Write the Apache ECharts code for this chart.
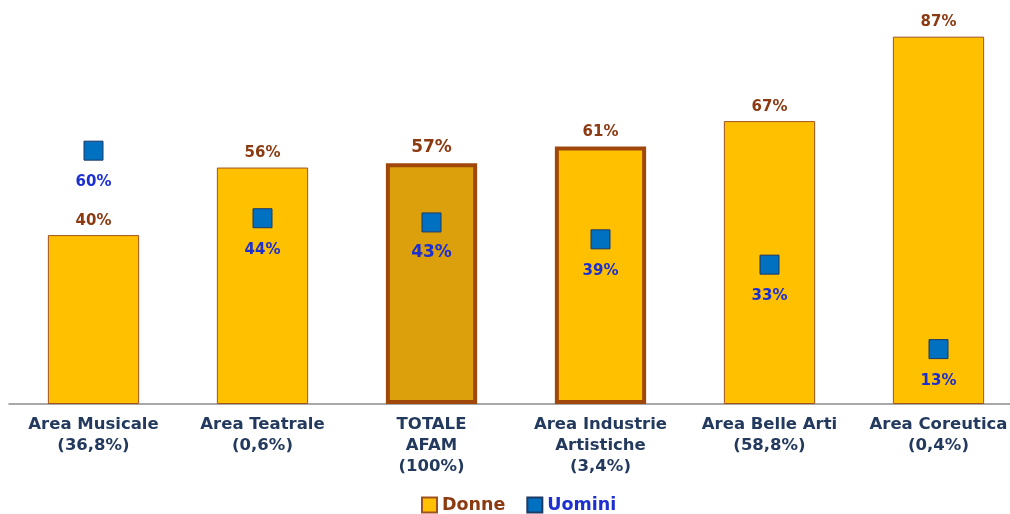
<!DOCTYPE html>
<html>
<head>
<meta charset="utf-8">
<script src="https://cdn.jsdelivr.net/npm/echarts@6/dist/echarts.min.js"></script>
<style>
  html, body { margin: 0; padding: 0; background: #fff; }
  #chart { width: 1010px; height: 514px; }
</style>
</head>
<body>
<div id="chart"></div>
<script>
// categorie (quota sul totale AFAM)
const categories = [
  'Area Musicale\n(36,8%)',
  'Area Teatrale\n(0,6%)',
  'TOTALE\nAFAM\n(100%)',
  'Area Industrie\nArtistiche\n(3,4%)',
  'Area Belle Arti\n(58,8%)',
  'Area Coreutica\n(0,4%)'
]
const donne = [40, 56, 57, 61, 67, 87]
const uomini = [60, 44, 43, 39, 33, 13]

const font = 'DejaVu Sans'
const brown = '#8B3A12'
const blue = '#1C2FD0'

const chart = echarts.init(document.getElementById('chart'))

// barre donne, con stile speciale per il totale e industrie artistiche
const donneData = donne.map((v, i) => {
  const item = { value: v }
  if (i === 2) {
    item.itemStyle = { color: '#DBA00B', borderColor: '#A0480C', borderWidth: 4 }
    item.label = { fontSize: 17 }
  } else if (i === 3) {
    item.itemStyle = { borderColor: '#A0480C', borderWidth: 4 }
  }
  return item
})
const uominiData = uomini.map((v, i) => {
  const item = { value: v }
  if (i === 2) {
    item.label = { fontSize: 17, distance: 12 }
  }
  return item
})

const option = {
  animation: false,
  grid: { left: 9, top: 24, width: 1014, height: 380, outerBoundsMode: 'none', containLabel: false },
  legend: {
    top: 491,
    left: 416,
    itemWidth: 15,
    itemHeight: 15,
    itemGap: 21,
    data: [
      { name: 'Donne', icon: 'rect', textStyle: { color: brown } },
      { name: 'Uomini', icon: 'rect', textStyle: { color: blue } }
    ],
    textStyle: { fontFamily: font, fontWeight: 'bold', fontSize: 17.5 }
  },
  xAxis: {
    type: 'category',
    data: categories,
    axisLine: { lineStyle: { color: '#8c8c8c', width: 1.5 } },
    axisTick: { length: 6, lineStyle: { color: '#8c8c8c' } },
    axisLabel: {
      interval: 0,
      color: '#233A5E',
      fontFamily: font,
      fontWeight: 'bold',
      fontSize: 16.5,
      lineHeight: 21,
      margin: 10
    }
  },
  yAxis: {
    type: 'value',
    min: 0,
    max: 90,
    show: false
  },
  series: [
    {
      name: 'Donne',
      type: 'bar',
      data: donneData,
      barWidth: '54%',
      itemStyle: { color: '#FFC000', borderColor: '#A0521E', borderWidth: 1 },
      label: {
        show: true,
        position: 'top',
        distance: 7,
        formatter: '{c}%',
        color: brown,
        fontFamily: font,
        fontWeight: 'bold',
        fontSize: 15
      }
    },
    {
      name: 'Uomini',
      type: 'scatter',
      data: uominiData,
      symbol: 'rect',
      symbolSize: 19,
      itemStyle: { color: '#0070C0', borderColor: '#1F3864', borderWidth: 1, opacity: 1 },
      label: {
        show: true,
        position: 'bottom',
        distance: 14,
        formatter: '{c}%',
        color: blue,
        fontFamily: font,
        fontWeight: 'bold',
        fontSize: 15
      }
    }
  ]
}
chart.setOption(option)
</script>
</body>
</html>
